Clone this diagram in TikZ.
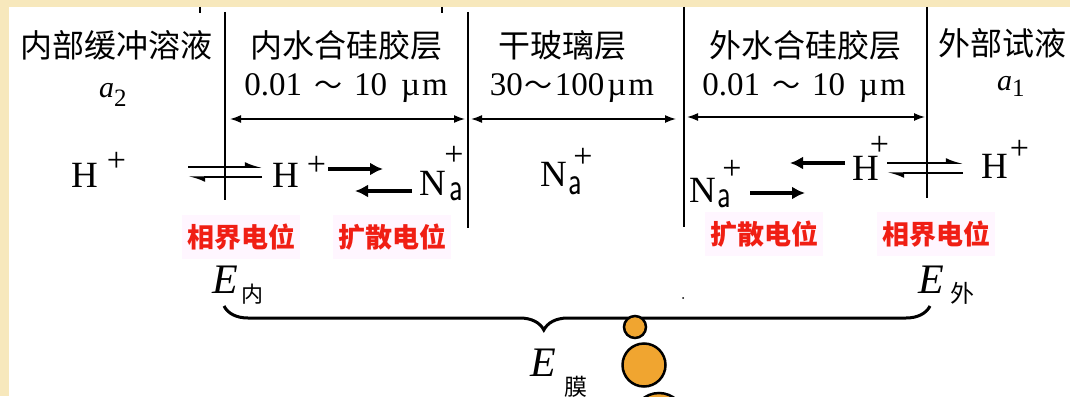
\documentclass[tikz,border=0pt]{standalone}
\usepackage{fontspec}
\usepackage{graphicx}
\setmainfont{Liberation Serif}
\newfontfamily\cjk{Noto Sans CJK SC}
\usetikzlibrary{arrows.meta,decorations.pathreplacing}
\definecolor{bgyellow}{RGB}{247,232,188}
\definecolor{lblred}{RGB}{240,30,20}
\definecolor{lblbg}{RGB}{255,246,255}
\definecolor{ballorange}{RGB}{240,165,48}
\newcommand\ionplus[1]{\raisebox{#1}{\fontsize{34}{34}\selectfont +}}
\newcommand\suba[1]{\raisebox{#1}{\scalebox{1}[1.35]{\fontsize{30}{30}\sffamily a}}}
\newcommand\bigE{{\fontsize{42}{42}\selectfont\itshape E}}
\newcommand\tld{{\cjk\fontsize{28}{28}\selectfont ～}}
\begin{document}
\begin{tikzpicture}[x=1pt,y=-1pt,
  title/.style={font=\cjk\fontsize{32}{32}\selectfont, inner sep=0},
  dimtext/.style={font=\fontsize{33}{33}\selectfont, inner sep=0},
  ion/.style={font=\fontsize{37}{37}\selectfont, inner sep=0, anchor=base west},
  lbl/.style={font=\cjk\bfseries\fontsize{27}{27}\selectfont, text=lblred, fill=lblbg, inner xsep=5pt, inner ysep=9pt},
  sepline/.style={line width=1.5pt},
  dimarrow/.style={line width=1.5pt, {Latex[length=11pt,width=8pt]}-{Latex[length=11pt,width=8pt]}},
  fatarrow/.style={line width=4.5pt, -{Latex[length=13pt,width=13pt]}},
  eqline/.style={line width=1.5pt, -{Latex[harpoon,length=14pt,width=10pt]}},
  elabel/.style={inner sep=0, anchor=base west},
  ballstyle/.style={circle, draw=black, line width=2.5pt, fill=ballorange, inner sep=0},
  bracestyle/.style={line width=3pt, decorate, decoration={brace, mirror, amplitude=24pt, aspect=0.453}}
]
\useasboundingbox (0,0) rectangle (1070,396);
\fill[bgyellow] (0,0) rectangle (1070,396);
\fill[white] (9,7) rectangle (1070,396);

% separator lines
\coordinate (s1t) at (225,12); \coordinate (s1b) at (225,200);
\coordinate (s2t) at (468,12); \coordinate (s2b) at (468,228);
\coordinate (s3t) at (684,7);  \coordinate (s3b) at (684,227);
\coordinate (s4t) at (927,7);  \coordinate (s4b) at (927,198);
\draw[sepline] (s1t) -- (s1b);
\draw[sepline] (s2t) -- (s2b);
\draw[sepline] (s3t) -- (s3b);
\draw[sepline] (s4t) -- (s4b);
\coordinate (k1t) at (200,7); \coordinate (k1b) at (200,13);
\coordinate (k2t) at (442,7); \coordinate (k2b) at (442,13);
\draw[line width=1.5pt] (k1t) -- (k1b);
\draw[line width=1.5pt] (k2t) -- (k2b);
\fill (683,298) circle (1pt);
\fill (927,213) circle (1pt);

% titles
\node[title] (t1) at (116,45) {内部缓冲溶液};
\node[title] (t2) at (346,45) {内水合硅胶层};
\node[title] (t3) at (562,45) {干玻璃层};
\node[title] (t4) at (805,45) {外水合硅胶层};
\node[title] (t5) at (1002,43) {外部试液};

\node[inner sep=0, anchor=base west, font=\fontsize{30}{30}\selectfont] (a2) at (99,97) {\textit{a}\raisebox{-9pt}{\fontsize{25}{25}\selectfont 2}};
\node[inner sep=0, anchor=base west, font=\fontsize{30}{30}\selectfont] (a1) at (997,90) {\textit{a}\raisebox{-6pt}{\fontsize{25}{25}\selectfont 1}};

% dimension texts
\node[dimtext] (d1) at (346,88) {0.01\hspace{12pt}\tld\hspace{12pt}10\hspace{14pt}µ\hspace{2pt}m};
\node[dimtext] (d2) at (572,88) {30\hspace{2pt}\tld\hspace{2pt}100\hspace{3pt}µ\hspace{2pt}m};
\node[dimtext] (d3) at (804,88) {0.01\hspace{12pt}\tld\hspace{12pt}10\hspace{14pt}µ\hspace{2pt}m};

% dimension arrows
\coordinate (da1) at (230,119); \coordinate (db1) at (465,119);
\coordinate (da2) at (471,119); \coordinate (db2) at (676,119);
\coordinate (da3) at (687,117); \coordinate (db3) at (925,117);
\draw[dimarrow] (da1) -- (db1);
\draw[dimarrow] (da2) -- (db2);
\draw[dimarrow] (da3) -- (db3);

% ions
\node[ion] (h1) at (71,187) {H\hspace{9pt}\ionplus{16pt}};
\node[ion] (h2) at (272,187) {H\hspace{8pt}\ionplus{12pt}};
\node[ion] (na1) at (419,195) {N\hspace{4pt}\suba{-5pt}\hspace{-19pt}\ionplus{30pt}};
\node[ion] (na2) at (540,186) {N\hspace{2pt}\suba{-8pt}\hspace{-9pt}\ionplus{19pt}};
\node[ion] (na3) at (689,202) {N\hspace{2pt}\suba{-5pt}\hspace{-9pt}\ionplus{23pt}};
\node[ion] (h3) at (852,180) {H\hspace{-9pt}\ionplus{25pt}};
\node[ion] (h4) at (981,178) {H\hspace{2pt}\ionplus{19pt}};

% equilibrium harpoons
\coordinate (e1a) at (188,167); \coordinate (e1b) at (262,167);
\coordinate (e1c) at (262,177); \coordinate (e1d) at (188,177);
\draw[eqline] (e1a) -- (e1b);
\draw[eqline] (e1c) -- (e1d);
\coordinate (e2a) at (887,163); \coordinate (e2b) at (963,163);
\coordinate (e2c) at (963,173); \coordinate (e2d) at (887,173);
\draw[eqline] (e2a) -- (e2b);
\draw[eqline] (e2c) -- (e2d);

% diffusion arrows
\coordinate (f1a) at (328,169); \coordinate (f1b) at (383,169);
\coordinate (f2a) at (412,191); \coordinate (f2b) at (355,191);
\coordinate (f3a) at (845,163); \coordinate (f3b) at (790,163);
\coordinate (f4a) at (750,193); \coordinate (f4b) at (805,193);
\draw[fatarrow] (f1a) -- (f1b);
\draw[fatarrow] (f2a) -- (f2b);
\draw[fatarrow] (f3a) -- (f3b);
\draw[fatarrow] (f4a) -- (f4b);

% red labels
\node[lbl] (l1) at (241,237) {相界电位};
\node[lbl] (l2) at (392,237) {扩散电位};
\node[lbl] (l3) at (764,234) {扩散电位};
\node[lbl] (l4) at (936,234) {相界电位};

% E labels
\node[elabel] (en) at (212,293) {\bigE\hspace{4pt}\raisebox{-9pt}{\cjk\fontsize{22}{22}\selectfont 内}};
\node[elabel] (ew) at (918,293) {\bigE\hspace{7pt}\raisebox{-9pt}{\cjk\fontsize{24}{24}\selectfont 外}};
\node[elabel] (em) at (530,376) {\bigE\hspace{9pt}\raisebox{-19pt}{\cjk\fontsize{23}{23}\selectfont 膜}};

% brace
\coordinate (bl) at (224,306); \coordinate (br) at (930,306);
\draw[bracestyle] (bl) -- (br);

% balls
\node[ballstyle, minimum size=22pt] (b1) at (635,327) {};
\node[ballstyle, minimum size=43pt] (b2) at (644,365) {};
\node[ballstyle, minimum size=52pt] (b3) at (659,419) {};
\end{tikzpicture}
\end{document}
